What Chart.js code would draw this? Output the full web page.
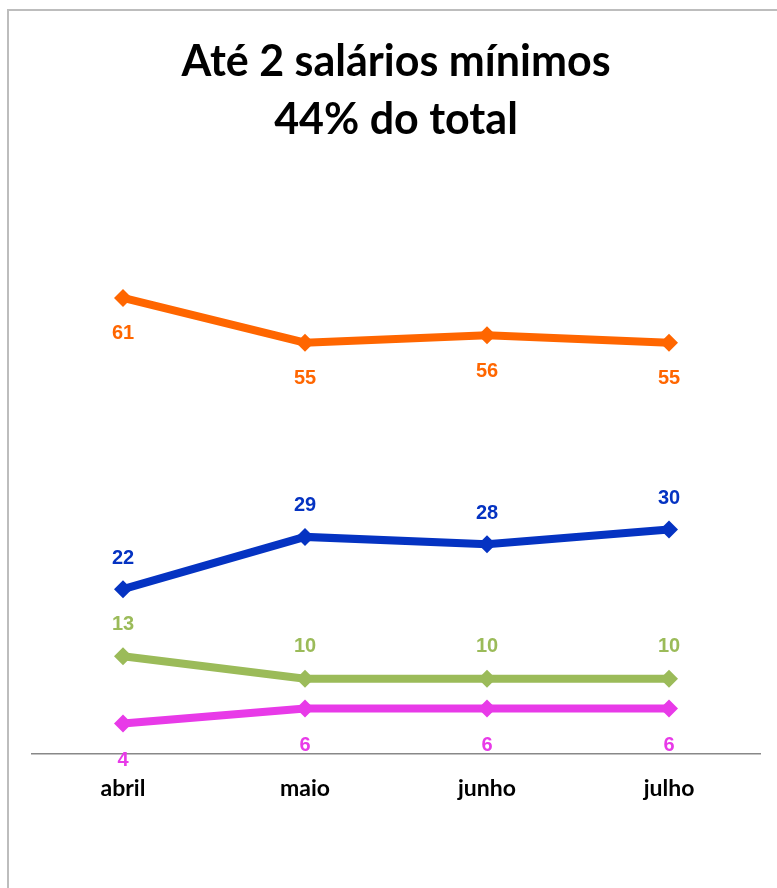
<!DOCTYPE html>
<html>
<head>
<meta charset="utf-8">
<script src="https://cdn.jsdelivr.net/npm/chart.js@4.4.1/dist/chart.umd.min.js"></script>
<style>
    html, body { margin: 0; padding: 0; background: #fff; }
    #wrap { position: relative; width: 777px; height: 888px; overflow: hidden; }
    #frame { position: absolute; left: 7px; top: 9px; width: 820px; height: 920px; border: 2px solid #bdbdbd; box-sizing: border-box; }
    #chart { position: absolute; left: 0; top: 0; }
</style>
</head>
<body>
<div id="wrap">
    <div id="frame"></div>
    <canvas id="chart" width="777" height="888"></canvas>
</div>
<script>
var months = ["abril", "maio", "junho", "julho"];
var orangeValues = [61, 55, 56, 55];
var blueValues = [22, 29, 28, 30];
var greenValues = [13, 10, 10, 10];
var magentaValues = [4, 6, 6, 6];
var titleLines = ["Até 2 salários mínimos", "44% do total"];

// draws the value of each point above or below its marker
var valueLabels = {
    id: "valueLabels",
    afterDatasetsDraw: function(chart)
    {
        var ctx = chart.ctx;
        chart.data.datasets.forEach(function(ds, i)
        {
            var meta = chart.getDatasetMeta(i);
            ctx.save();
            ctx.font = "bold 20px 'Liberation Sans', Arial, sans-serif";
            ctx.fillStyle = ds.borderColor;
            ctx.textAlign = "center";
            ctx.textBaseline = "middle";
            meta.data.forEach(function(pt, j)
            {
                ctx.fillText(ds.data[j], pt.x, pt.y + ds.labelOffset);
            });
            ctx.restore();
        });
    }
};

function makeSeries(values, color, offset)
{
    return {
        data: values,
        borderColor: color,
        backgroundColor: color,
        borderWidth: 8,
        pointStyle: "rectRot",
        pointRadius: 9,
        pointBorderWidth: 0,
        tension: 0,
        clip: false,
        labelOffset: offset
    };
}

new Chart(document.getElementById("chart"), {
    type: "line",
    data: {
        labels: months,
        datasets: [
            makeSeries(orangeValues, "#ff6600", 36),
            makeSeries(blueValues, "#0533c2", -31),
            makeSeries(greenValues, "#9bbb59", -32),
            makeSeries(magentaValues, "#e83ae8", 37)
        ]
    },
    options: {
        responsive: false,
        animation: false,
        layout: {
            padding: { left: 32, right: 17, top: 0, bottom: 65 }
        },
        plugins: {
            legend: { display: false },
            tooltip: { enabled: false },
            title: {
                display: true,
                text: titleLines,
                color: "#000",
                font: { family: "Lato", size: 43, weight: "bold", lineHeight: 1.35 },
                padding: { top: 33, bottom: 7 }
            }
        },
        scales: {
            x: {
                offset: true,
                grid: { display: false, drawTicks: false },
                border: { display: true, color: "#888", width: 1.5 },
                ticks: {
                    color: "#000",
                    padding: 21,
                    font: { family: "Lato", size: 23, weight: "bold" }
                }
            },
            y: {
                display: false,
                min: 0,
                max: 80
            }
        }
    },
    plugins: [valueLabels]
});
</script>
</body>
</html>
